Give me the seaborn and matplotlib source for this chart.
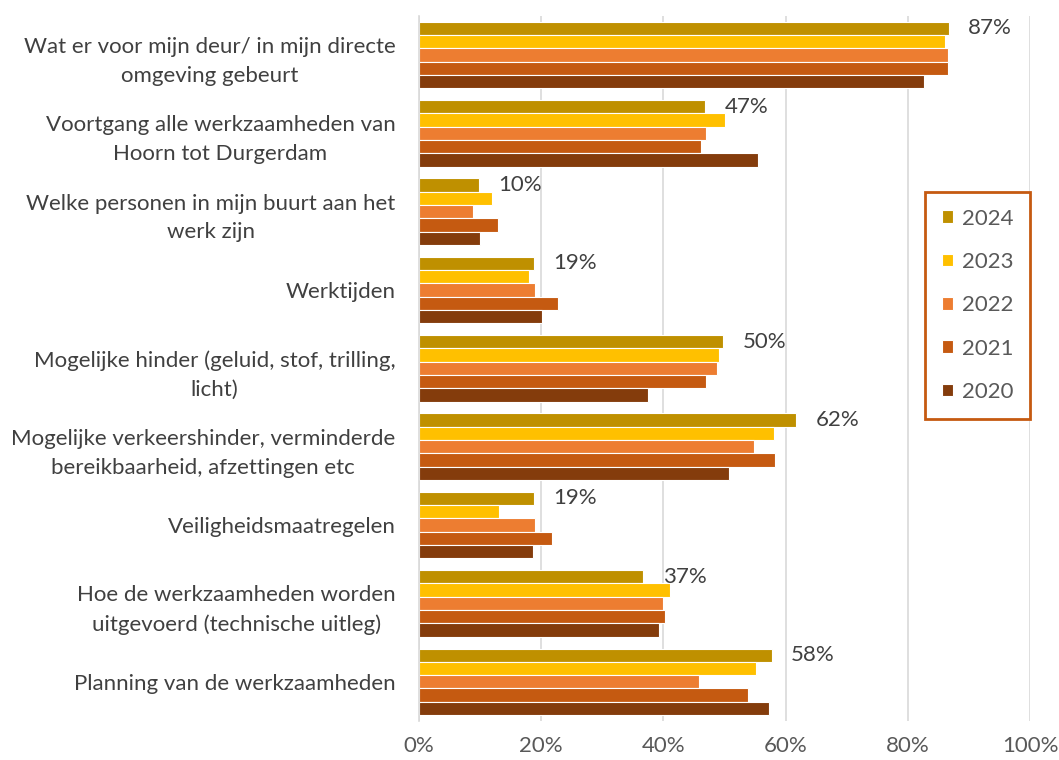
import pandas as pd
import matplotlib.pyplot as plt
import seaborn as sns

# categories (top to bottom)
categories = [
    "Wat er voor mijn deur/ in mijn directe\nomgeving gebeurt",
    "Voortgang alle werkzaamheden van\nHoorn tot Durgerdam",
    "Welke personen in mijn buurt aan het\nwerk zijn",
    "Werktijden",
    "Mogelijke hinder (geluid, stof, trilling,\nlicht)",
    "Mogelijke verkeershinder, verminderde\nbereikbaarheid, afzettingen etc",
    "Veiligheidsmaatregelen",
    "Hoe de werkzaamheden worden\nuitgevoerd (technische uitleg)",
    "Planning van de werkzaamheden",
]
years = ["2024", "2023", "2022", "2021", "2020"]

# share of respondents per year (%)
v2024 = [86.7, 46.8, 9.8, 18.8, 49.8, 61.7, 18.8, 36.7, 57.7]
v2023 = [86.1, 50.0, 12.0, 18.0, 49.1, 58.1, 13.1, 41.1, 55.1]
v2022 = [86.5, 46.9, 8.8, 18.9, 48.8, 54.9, 18.9, 39.9, 45.8]
v2021 = [86.5, 46.2, 12.9, 22.7, 46.9, 58.3, 21.7, 40.2, 53.9]
v2020 = [82.7, 55.4, 9.9, 20.1, 37.5, 50.7, 18.6, 39.2, 57.2]
labels_2024 = ["87%", "47%", "10%", "19%", "50%", "62%", "19%", "37%", "58%"]

colors = ["#BF9000", "#FFC000", "#ED7D31", "#C55A11", "#843C0C"]

rows = []
for year, vals in zip(years, [v2024, v2023, v2022, v2021, v2020]):
    for cat, v in zip(categories, vals):
        rows.append({"categorie": cat, "jaar": year, "waarde": v})
df = pd.DataFrame(rows)

sns.set_theme(style="white")
plt.rcParams["font.family"] = ["Lato", "DejaVu Sans"]
fs = 16

fig = plt.figure(figsize=(10.59, 7.6), dpi=100)
ax = fig.add_axes([0.3957, 0.0513, 0.5769, 0.9279])

sns.barplot(data=df, y="categorie", x="waarde", hue="jaar", hue_order=years,
            order=categories, palette=colors, saturation=1, orient="h",
            width=0.85, edgecolor="white", linewidth=0.8, ax=ax)

# value labels only for 2024
ax.bar_label(ax.containers[0], labels=labels_2024, padding=14,
             fontsize=fs, color="#404040")

ax.set_xlim(0, 100)
ax.set_xticks([0, 20, 40, 60, 80, 100])
ax.set_xticklabels(["0%", "20%", "40%", "60%", "80%", "100%"])
ax.set_xlabel("")
ax.set_ylabel("")
ax.grid(axis="x", color="#D9D9D9", linewidth=1.2)
ax.set_axisbelow(True)
for s in ["top", "right", "bottom"]:
    ax.spines[s].set_visible(False)
ax.spines["left"].set_color("#D9D9D9")
ax.spines["left"].set_linewidth(1.2)
ax.tick_params(axis="x", length=0, pad=11, labelsize=fs, labelcolor="#595959")
ax.tick_params(axis="y", length=0, pad=17, labelsize=fs, labelcolor="#404040")
for t in ax.get_yticklabels():
    t.set_multialignment("center")
    t.set_linespacing(1.55)

leg = ax.legend(loc="upper right", bbox_to_anchor=(0.9726, 0.7474),
                bbox_transform=fig.transFigure, borderaxespad=0,
                fontsize=fs, frameon=True, fancybox=False, framealpha=1,
                handlelength=0.5, handleheight=0.5, labelspacing=1.05,
                borderpad=0.75, handletextpad=0.4, labelcolor="#595959")
leg.get_frame().set_edgecolor("#C55A11")
leg.get_frame().set_linewidth(2)

fig.savefig("out.png", dpi=100)
